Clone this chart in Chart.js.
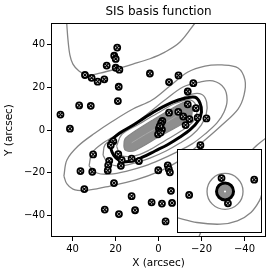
<!DOCTYPE html>
<html>
<head>
<meta charset="utf-8">
<script src="https://cdn.jsdelivr.net/npm/chart.js@4.4.1/dist/chart.umd.min.js"></script>
<style>
  html, body { margin: 0; padding: 0; background: #fff; }
  #wrap { position: relative; width: 277px; height: 277px; }
  #main { position: absolute; left: 0; top: 0; }
  #inset { position: absolute; left: 177px; top: 149px; }
</style>
</head>
<body>
<div id="wrap">
  <canvas id="main" width="277" height="277"></canvas>
  <canvas id="inset" width="85" height="84"></canvas>
</div>
<script>
/* SIS basis function - contours + image positions, with zoomed inset */
const xTicks = [40, 20, 0, -20, -40];
const yTicks = [-40, -20, 0, 20, 40];

// image positions (arcsec)
const imagePoints = [
  [19.2,38.5],[20.6,34.7],[19.9,33.2],[24.1,30.1],[19.9,29.1],[18.2,28.2],
  [34.2,25.7],[31.1,24.4],[28.3,22.6],[25.2,23.7],[18.5,20.2],[18.9,13.5],
  [36.9,11.5],[31.5,11.3],[45.6,7.2],[41.2,0.6],
  [4.0,26.4],[-4.9,22.4],[-9.3,25.5],[-16.2,21.9],[-13.6,18.0],[-13.6,12.0],
  [-17.4,10.2],[-4.9,8.1],[-9.2,8.5],[-11.5,6.3],[-14.4,5.1],[-18.2,5.8],
  [-22.3,5.4],[-12.6,2.3],[-1.8,4.2],[-19.5,-7.1],
  [-1.2,3.2],[-0.2,0.6],[-1.6,0.2],[0.2,-2.0],[-1.0,-1.2],[-0.6,1.8],
  [21.0,-5.3],[22.2,-7.1],[30.4,-11.4],[18.7,-11.3],[22.9,-14.4],[17.1,-14.1],
  [12.5,-13.4],[9.1,-14.5],[23.4,-16.5],[17.5,-16.7],[23.6,-18.9],[36.3,-19.2],
  [30.8,-19.5],[20.7,-24.8],[34.5,-27.6],[12.5,-30.9],
  [0.1,-18.8],[-4.3,-16.5],[-4.8,-18.3],[-5.3,-19.8],[-5.8,-28.4],[3.2,-33.8],
  [-1.6,-34.4],[-6.3,-34.1],[25.0,-37.2],[18.4,-39.3],[10.9,-37.5],[-3.3,-42.7]
];

// contour levels of the basis function (arcsec)
const contourTop = [
  [42.7,50],[42.1,42.1],[41.2,35.0],[39.8,30.8],[37.0,27.6],[32.8,25.7],[27.2,26.6],
  [19.4,28.6],[11.9,30.8],[4.0,33.3],[-3.0,36.4],[-10.0,41.1],[-17.0,50]
];
const contourRight = [
  [-50,-3.7],[-44.4,-8.4],[-35.6,-18.7],[-26.3,-32.7],[-21.6,-43.0],[-18.8,-50]
];
const contourOuter = [
  [44.0,-21.5],[42.6,-14.0],[37.4,-7.5],[29.5,-1.4],[21.2,4.2],[11.9,9.8],[3.0,14.0],
  [-5.3,20.6],[-13.7,27.1],[-21.6,29.9],[-29.5,30.4],[-37.0,29.0],[-40.2,23.4],
  [-39.8,16.4],[-37.0,9.8],[-29.5,2.3],[-21.6,-4.7],[-14.7,-10.3],[-8.6,-15.0],
  [-0.7,-19.2],[10.9,-23.4],[22.6,-26.2],[31.9,-28.0],[38.8,-28.0],[42.6,-25.2],[44.0,-21.5]
];
const contourMid = [
  [32.3,-16.8],[30.9,-10.7],[25.8,-6.1],[18.8,-1.9],[10.9,2.8],[4.0,8.4],[-3.0,14.0],
  [-11.4,20.1],[-19.3,22.4],[-25.3,22.9],[-30.5,19.6],[-31.9,14.0],[-30.5,8.4],
  [-27.2,3.3],[-21.6,-1.9],[-15.6,-6.5],[-7.7,-10.7],[-0.7,-14.0],[6.3,-16.8],
  [14.7,-19.2],[22.6,-20.6],[28.6,-20.1],[32.3,-16.8]
];
const contourInner = [
  [25.8,-11.7],[24.9,-7.0],[20.2,-3.3],[13.3,0.9],[6.3,5.6],[-0.7,9.8],[-8.1,13.6],
  [-15.6,16.8],[-20.2,16.6],[-22.4,13.0],[-22.2,7.4],[-19.8,2.2],[-15.6,-2.3],
  [-10.0,-6.1],[-3.5,-9.8],[4.0,-13.1],[10.9,-15.4],[17.9,-16.8],[23.5,-15.4],[25.8,-11.7]
];
const criticalCurve = [
  [23.0,-5.6],[21.6,-10.3],[19.8,-13.1],[17.0,-14.7],[12.3,-14.5],[7.2,-12.6],
  [1.6,-9.8],[-4.0,-7.0],[-10.0,-3.3],[-15.1,0.5],[-18.4,4.2],[-20.0,8.4],
  [-19.3,12.6],[-17.0,15.3],[-12.3,14.8],[-6.3,12.9],[0.2,9.6],[6.3,5.9],
  [12.3,2.0],[18.2,-1.5],[23.0,-5.6]
];
const coreRing = [
  [19.5,-7.5],[17.0,-2.0],[9.0,2.8],[0.5,7.8],[-8.0,12.5],[-15.0,14.0],[-17.8,10.5],
  [-16.5,4.5],[-10.5,-0.5],[-3.0,-5.0],[4.5,-9.5],[11.5,-12.2],[17.5,-11.8],[19.5,-7.5]
];
const coreFill = [
  [16.1,-7.7],[15.8,-4.7],[14.2,-2.8],[2.6,4.7],[-10.7,12.5],[-13.3,12.9],[-15.6,10.5],
  [-15.6,7.9],[-14.9,5.2],[-1.6,-2.3],[11.2,-9.7],[13.7,-10.0],[15.6,-9.3],[16.1,-7.7]
];
const coreLine = [
  [12.5,-6.0],[6.0,-2.0],[-1.0,2.0],[-7.5,6.0],[-12.5,8.5]
];

// inset (zoomed source-plane view, arbitrary units)
const insetCentre = [[1.3, -0.1]];
const insetPoints = [[0.48,3.08],[1.98,-2.94],[8.17,2.7],[-7.14,-0.94]];
const insetContour = [
  [-10.2,-6.3],[-5.3,-7.5],[0.2,-7.9],[4.2,-7.1],[7.4,-5.1],[9.4,-2.3],[10.2,0.1]
];

const GREY = '#858585';
const FONT = "'DejaVu Sans', sans-serif";
const toXY = arr => arr.map(p => ({ x: p[0], y: p[1] }));
const minusFmt = v => (v < 0 ? '\u2212' + Math.abs(v) : String(v));

function lineSet(pts, color, width, extra) {
  return Object.assign({
    data: toXY(pts), showLine: true, borderColor: color, borderWidth: width,
    pointRadius: 0, tension: 0.35, fill: false
  }, extra || {});
}

function markerSets(pts) {
  return [
    { data: toXY(pts), pointStyle: 'crossRot', pointRadius: 2.4, pointBorderWidth: 1.2,
      pointBorderColor: '#000', showLine: false },
    { data: toXY(pts), pointStyle: 'circle', pointRadius: 3, pointBorderWidth: 1.8,
      pointBorderColor: '#000', pointBackgroundColor: '#fff', showLine: false }
  ];
}

const framePlugin = {
  id: 'frame',
  afterDraw(chart, args, opts) {
    const { ctx, chartArea: a } = chart;
    ctx.save();
    ctx.strokeStyle = '#000';
    ctx.lineWidth = 1;
    ctx.strokeRect(Math.round(a.left) + 0.5, Math.round(a.top) + 0.5,
      Math.round(a.right - a.left) - 1, Math.round(a.bottom - a.top) - 1);
    if (opts.title) {
      ctx.fillStyle = '#000';
      ctx.font = '12px ' + FONT;
      ctx.textAlign = 'center';
      ctx.textBaseline = 'middle';
      ctx.fillText(opts.title, (a.left + a.right) / 2, 12);
    }
    ctx.restore();
  }
};

new Chart(document.getElementById('main'), {
  type: 'scatter',
  data: {
    datasets: [
      ...markerSets(imagePoints),
      lineSet(criticalCurve, '#000', 3),
      lineSet(coreLine, '#a8a8a8', 1),
      lineSet(coreFill, GREY, 1.2, { fill: 'shape', backgroundColor: '#8e8e8e' }),
      lineSet(coreRing, GREY, 1.2),
      lineSet(contourInner, GREY, 1.3),
      lineSet(contourMid, GREY, 1.3),
      lineSet(contourOuter, GREY, 1.3),
      lineSet(contourRight, GREY, 1.3),
      lineSet(contourTop, GREY, 1.3)
    ]
  },
  options: {
    responsive: false,
    animation: false,
    devicePixelRatio: 1,
    layout: { autoPadding: false, padding: { top: 23, right: 11, left: 0, bottom: 0 } },
    plugins: {
      legend: { display: false },
      tooltip: { enabled: false },
      frame: { title: 'SIS basis function' }
    },
    scales: {
      x: {
        type: 'linear', min: -50, max: 50, reverse: true,
        afterBuildTicks: s => { s.ticks = xTicks.map(v => ({ value: v })); },
        afterFit: s => { s.height = 40; },
        grid: { drawOnChartArea: false, drawTicks: true, tickLength: 4, color: '#000' },
        border: { display: false },
        ticks: { color: '#000', font: { family: FONT, size: 10 }, padding: 2, callback: minusFmt, maxRotation: 0 },
        title: { display: true, text: 'X (arcsec)', color: '#000', font: { family: FONT, size: 10.5 }, padding: { top: 0, bottom: 7 } }
      },
      y: {
        type: 'linear', min: -50, max: 50,
        afterBuildTicks: s => { s.ticks = yTicks.map(v => ({ value: v })); },
        afterFit: s => { s.width = 51; },
        grid: { drawOnChartArea: false, drawTicks: true, tickLength: 4, color: '#000' },
        border: { display: false },
        ticks: { color: '#000', font: { family: FONT, size: 10 }, padding: 2, callback: minusFmt },
        title: { display: true, text: 'Y (arcsec)', color: '#000', font: { family: FONT, size: 10.5 }, padding: { top: 3, bottom: 0 } }
      }
    }
  },
  plugins: [framePlugin]
});

new Chart(document.getElementById('inset'), {
  type: 'scatter',
  data: {
    datasets: [
      ...markerSets(insetPoints),
      { data: toXY(insetCentre), pointRadius: 1, pointBorderWidth: 0, pointBackgroundColor: '#fff' },
      { data: toXY(insetCentre), pointRadius: 8.5, pointBorderWidth: 3, pointBorderColor: '#000', pointBackgroundColor: '#8e8e8e' },
      { data: toXY(insetCentre), pointRadius: 18, pointBorderWidth: 1.3, pointBorderColor: GREY, pointBackgroundColor: 'rgba(0,0,0,0)' },
      lineSet(insetContour, GREY, 1.3)
    ]
  },
  options: {
    responsive: false,
    animation: false,
    devicePixelRatio: 1,
    layout: { autoPadding: false, padding: 0 },
    plugins: { legend: { display: false }, tooltip: { enabled: false }, frame: {} },
    scales: {
      x: { type: 'linear', min: -10, max: 10, display: false },
      y: { type: 'linear', min: -10, max: 10, display: false }
    }
  },
  plugins: [framePlugin, {
    id: 'whiteBg',
    beforeDraw(chart) {
      const ctx = chart.ctx;
      ctx.save();
      ctx.fillStyle = '#fff';
      ctx.fillRect(0, 0, chart.width, chart.height);
      ctx.restore();
    }
  }]
});
</script>
</body>
</html>
